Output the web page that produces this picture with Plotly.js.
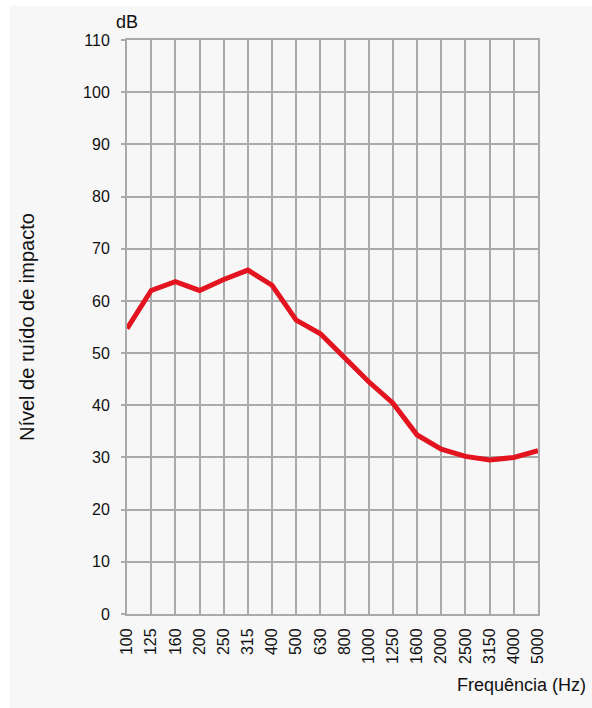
<!DOCTYPE html>
<html>
<head>
<meta charset="utf-8">
<script src="https://cdn.plot.ly/plotly-3.0.1.min.js"></script>
<style>
  html, body { margin: 0; padding: 0; background: #ffffff; }
  #chart { position: absolute; left: 10px; top: 6px; width: 582px; height: 702px; }
</style>
</head>
<body>
<div id="chart"></div>
<script>
const frequencies = ["100","125","160","200","250","315","400","500","630","800","1000","1250","1600","2000","2500","3150","4000","5000"];
const levels = [54.7, 62.0, 63.7, 62.0, 64.1, 65.9, 63.0, 56.3, 53.7, 49.2, 44.5, 40.4, 34.3, 31.6, 30.2, 29.5, 30.0, 31.3];
const yTicks = [0, 10, 20, 30, 40, 50, 60, 70, 80, 90, 100, 110];

const sans = "Liberation Sans, Arial, sans-serif";
const grid = "#aaaaaa";
const ink = "#111111";

const trace = {
  x: frequencies,
  y: levels,
  type: "scatter",
  mode: "lines",
  line: { color: "#e3131f", width: 5 },
  hoverinfo: "skip"
};

const layout = {
  width: 582,
  height: 702,
  margin: { l: 117, r: 54, t: 34, b: 94 },
  paper_bgcolor: "#f7f7f7",
  plot_bgcolor: "#f7f7f7",
  showlegend: false,
  font: { family: sans, color: ink, size: 16 },
  xaxis: {
    type: "category",
    categoryorder: "array",
    categoryarray: frequencies,
    range: [0, frequencies.length - 1],
    tickangle: -90,
    showgrid: true,
    gridcolor: grid,
    gridwidth: 2,
    showline: true,
    linecolor: grid,
    linewidth: 2,
    mirror: true,
    ticks: "",
    ticklabelstandoff: 6,
    zeroline: false,
    tickfont: { family: sans, size: 16, color: ink },
    fixedrange: true
  },
  yaxis: {
    range: [0, 110],
    tickvals: yTicks,
    ticktext: yTicks.map(String),
    showgrid: true,
    gridcolor: grid,
    gridwidth: 2,
    showline: true,
    linecolor: grid,
    linewidth: 2,
    mirror: true,
    ticks: "outside",
    ticklen: 4,
    tickwidth: 2,
    tickcolor: grid,
    ticklabelstandoff: 8,
    zeroline: false,
    tickfont: { family: sans, size: 16, color: ink },
    fixedrange: true
  },
  annotations: [
    {
      text: "dB",
      xref: "paper", yref: "paper",
      x: 0, y: 1.031,
      xanchor: "center", yanchor: "middle",
      showarrow: false,
      font: { family: sans, size: 18, color: ink }
    },
    {
      text: "Frequência (Hz)",
      xref: "paper", yref: "paper",
      x: 1.1217, y: -0.1237,
      xanchor: "right", yanchor: "middle",
      showarrow: false,
      font: { family: sans, size: 18, color: ink }
    },
    {
      text: "Nível de ruído de impacto",
      xref: "paper", yref: "paper",
      x: -0.2433, y: 0.5,
      xanchor: "center", yanchor: "middle",
      textangle: -90,
      showarrow: false,
      font: { family: sans, size: 20, color: ink }
    }
  ]
};

Plotly.newPlot("chart", [trace], layout, { staticPlot: true, displayModeBar: false });
</script>
</body>
</html>
